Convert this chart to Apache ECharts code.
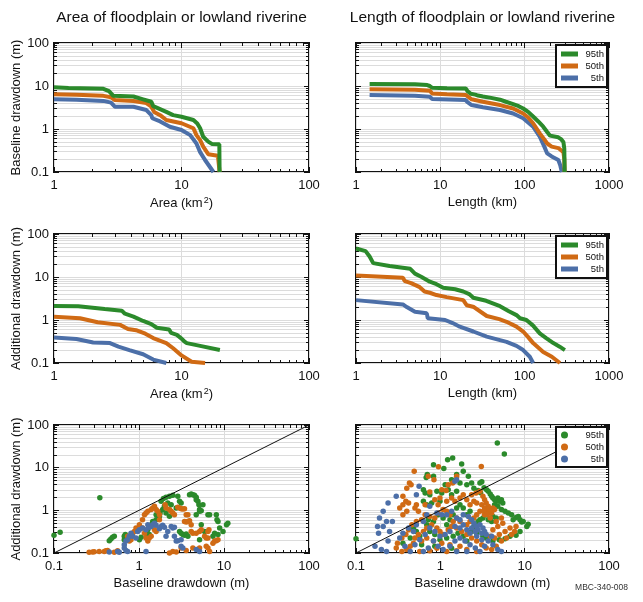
<!DOCTYPE html>
<html><head><meta charset="utf-8">
<script src="https://cdn.jsdelivr.net/npm/echarts@6/dist/echarts.min.js"></script>
<style>html,body{margin:0;padding:0;background:#fff}#c{width:643px;height:602px}</style>
</head><body><div id="c"></div>
<script>
const FONT = 'Liberation Sans, Arial, Helvetica, sans-serif';
const seriesNames = ['95th', '50th', '5th'];
const colors = ['#2b8a2b', '#d06a14', '#4c6fa8'];
const titles = ['Area of floodplain or lowland riverine', 'Length of floodplain or lowland riverine'];
const xNames = ['Area (km{s|2})', 'Length (km)', 'Area (km{s|2})', 'Length (km)', 'Baseline drawdown (m)', 'Baseline drawdown (m)'];
const yNames = ['Baseline drawdown (m)', '', 'Additional drawdown (m)', '', 'Additional drawdown (m)', ''];
const xRanges = [[1, 100], [1, 1000], [1, 100], [1, 1000], [0.1, 100], [0.1, 100]];
const yRanges = [[0.1, 100], [0.1, 100], [0.1, 100], [0.1, 100], [0.1, 100], [0.1, 100]];
const diagonal = [[0.1, 0.1], [100, 100]];

// Panel 1: Area vs baseline drawdown
const areaBase95 = [[1,9.3],[1.3,9.0],[2.44,8.6],[2.7,7.6],[2.92,5.9],[4.2,5.7],[5.0,4.9],[5.8,4.3],[6.0,3.4],[7.6,2.5],[8.6,2.1],[10,1.93],[12.4,1.62],[13.3,1.35],[14,1.04],[14.8,0.66],[16.2,0.51],[17.3,0.45],[19.8,0.44],[19.9,0.1]];
const areaBase50 = [[1,6.4],[1.5,6.3],[2.44,5.9],[2.8,5.5],[3.0,4.7],[4.2,4.5],[5.3,4.0],[5.8,3.3],[6.1,2.5],[6.8,2.1],[7.6,1.62],[10,1.36],[12.4,1.04],[13.1,0.72],[14,0.55],[14.8,0.39],[16.2,0.26],[19.3,0.24],[19.8,0.23],[19.9,0.1]];
const areaBase5 = [[1,4.9],[1.5,4.8],[2.44,4.5],[2.8,4.1],[3.0,3.3],[4.2,3.3],[5.3,2.76],[5.8,2.1],[5.9,1.78],[6.8,1.5],[8.1,1.13],[10,0.95],[11.7,0.72],[13.1,0.46],[14,0.29],[15.3,0.19],[17.8,0.1]];
// Panel 2: Length vs baseline drawdown
const lenBase95 = [[1.45,11.1],[5,11],[7,10.5],[7.5,10],[8,9.1],[12,8.9],[20,8.8],[21,7.6],[23,6.6],[26,6.3],[28,6.0],[32,5.7],[40,5.3],[51,4.8],[60,4.3],[73,3.8],[85,3.4],[96,3.0],[110,2.5],[126,1.95],[145,1.5],[166,1.13],[185,0.85],[200,0.7],[210,0.67],[250,0.64],[270,0.58],[288,0.5],[295,0.35],[298,0.1]];
const lenBase50 = [[1.45,8.4],[5,8.2],[7.5,7.8],[8,6.7],[12,6.4],[20,6.2],[21,5.6],[23.5,4.9],[32,4.3],[51,3.6],[73,3.0],[96,2.3],[110,1.85],[126,1.36],[151,0.79],[170,0.58],[185,0.46],[209,0.39],[251,0.36],[270,0.32],[288,0.29],[295,0.2],[298,0.1]];
const lenBase5 = [[1.45,6.2],[5,5.9],[7.5,5.6],[8,5.0],[20,4.7],[21,4.2],[23.5,3.6],[32,3.2],[51,2.76],[73,2.3],[96,1.78],[126,1.13],[151,0.66],[170,0.4],[185,0.27],[209,0.23],[251,0.19],[265,0.14],[276,0.1]];
// Panel 3: Area vs additional drawdown
const areaAdd95 = [[1,2.12],[1.55,2.1],[1.6,1.95],[2.5,1.8],[3.4,1.65],[3.6,1.4],[4.2,1.2],[5,0.95],[5.8,0.8],[6.4,0.66],[8,0.6],[8.3,0.5],[9.2,0.45],[10,0.37],[10.5,0.32],[11,0.29],[14,0.25],[20,0.2]];
const areaAdd50 = [[1,1.19],[1.6,1.1],[2.2,0.89],[3.3,0.77],[3.8,0.62],[4.4,0.58],[5.2,0.48],[6,0.38],[7.6,0.29],[8.6,0.22],[10,0.15],[12,0.107],[15.3,0.1]];
const areaAdd5 = [[1,0.39],[1.5,0.36],[2.03,0.3],[2.75,0.29],[3.2,0.24],[3.9,0.2],[5,0.16],[6,0.12],[7.6,0.1]];
// Panel 4: Length vs additional drawdown
const lenAdd95 = [[1,46],[1.3,40],[1.45,30],[1.6,21],[2.5,18],[4.4,15.5],[5,12],[6,10],[7.5,7.8],[9,6.8],[10.8,5.6],[15,5.2],[18.7,4.6],[22,4.0],[24.6,3.3],[35,2.8],[51,2.1],[65,1.6],[80,1.3],[88,1.1],[105,1.0],[125,0.75],[151,0.49],[180,0.38],[219,0.29],[260,0.24],[300,0.2]];
const lenAdd50 = [[1,10.8],[3.6,9.6],[3.8,8],[4.5,7.2],[5.7,5.8],[6.5,4.6],[7.5,4.3],[9,3.8],[11.9,3.4],[18.7,2.9],[20.6,2.2],[25,2.0],[35.5,1.24],[50,1.05],[61,0.91],[80,0.7],[96,0.54],[110,0.4],[126,0.29],[166,0.18],[210,0.14],[262,0.1]];
const lenAdd5 = [[1,2.9],[3.6,2.3],[4,2.0],[5,1.55],[6.9,1.43],[7.1,1.1],[11.4,1.0],[14,0.85],[17,0.7],[24.6,0.54],[35.5,0.41],[61,0.31],[80,0.25],[96,0.2],[115,0.14],[126,0.1]];
// Panel 5: area scatter, baseline vs additional
const areaPts95 = [[0.1,0.26],[0.118,0.305],[0.346,1.98],[0.447,0.195],[0.467,0.213],[0.489,0.233],[0.512,0.246],[0.671,0.246],[0.69,0.27],[0.702,0.225],[0.671,0.205],[1.01,0.205],[1.06,0.233],[1.21,0.29],[1.27,0.35],[1.32,0.27],[1.39,0.46],[1.45,0.55],[1.52,0.55],[1.59,0.6],[1.71,0.79],[1.77,0.87],[1.82,1.63],[1.94,1.9],[2.08,2.02],[2.28,2.13],[2.5,2.25],[1.99,1.24],[2.18,1.49],[2.39,1.36],[1.9,1.04],[2.08,0.87],[2.28,0.73],[1.74,0.73],[1.59,0.79],[2.86,2.13],[3.0,1.63],[3.13,1.49],[2.74,1.13],[3.0,0.32],[3.13,0.29],[3.28,0.27],[3.43,0.26],[3.59,0.28],[3.76,0.246],[3.93,2.33],[4.11,2.41],[4.3,2.33],[4.5,2.25],[4.71,2.02],[4.71,1.78],[4.93,1.63],[5.07,1.36],[5.16,1.04],[5.4,0.98],[5.65,1.36],[4.71,0.79],[5.16,0.95],[5.4,0.46],[5.91,0.32],[6.47,0.79],[6.77,0.79],[8.12,0.79],[8.27,0.6],[8.5,0.55],[8.89,0.385],[8.5,0.27],[9.73,0.32],[10.7,0.46],[11.1,0.5],[5.16,0.205],[7.41,0.246],[7.76,0.29]];
const areaPts50 = [[0.259,0.104],[0.284,0.105],[0.297,0.107],[0.34,0.109],[0.39,0.109],[0.408,0.113],[0.427,0.115],[0.512,0.104],[0.56,0.113],[0.735,0.246],[0.769,0.19],[0.805,0.205],[0.842,0.29],[0.881,0.32],[0.922,0.385],[1.01,0.46],[1.1,0.6],[1.16,0.79],[1.21,0.87],[1.27,0.95],[1.39,1.04],[1.45,1.13],[1.52,1.24],[1.59,1.04],[1.66,0.95],[1.74,0.79],[2.03,1.36],[2.08,1.13],[2.28,1.04],[2.39,0.95],[2.5,0.87],[2.61,0.79],[1.74,0.6],[1.59,0.32],[1.52,0.35],[1.39,0.246],[1.32,0.225],[1.27,0.19],[1.21,0.225],[1.16,0.29],[1.1,0.385],[2.86,1.18],[3.0,1.13],[3.13,1.09],[3.28,1.07],[3.43,1.09],[3.59,0.79],[3.76,0.79],[3.43,0.55],[3.59,0.53],[3.76,0.55],[3.93,0.57],[4.11,0.46],[4.11,0.32],[4.3,0.29],[4.71,0.29],[5.16,0.32],[5.4,0.35],[5.91,0.246],[6.18,0.225],[6.47,0.225],[6.47,0.32],[6.65,0.35],[7.76,0.19],[8.12,0.195],[8.5,0.205],[7.41,0.17],[6.18,0.143],[6.47,0.131],[6.77,0.109],[5.16,0.131],[4.3,0.131],[3.13,0.131],[2.5,0.109],[2.28,0.1],[2.74,0.105],[3.59,0.115]];
const areaPts5 = [[0.447,0.105],[0.56,0.109],[0.586,0.104],[0.671,0.131],[0.702,0.115],[0.735,0.109],[0.671,0.157],[0.702,0.19],[0.735,0.205],[0.769,0.246],[0.805,0.29],[0.842,0.246],[0.922,0.225],[0.965,0.32],[1.01,0.35],[1.1,0.385],[1.21,0.35],[1.27,0.46],[1.32,0.4],[1.39,0.42],[1.45,0.46],[1.52,0.5],[1.59,0.445],[1.74,0.37],[1.82,0.42],[1.9,0.445],[1.99,0.4],[2.08,0.246],[2.18,0.32],[2.39,0.42],[2.5,0.385],[2.61,0.4],[2.61,0.246],[2.74,0.19],[2.86,0.195],[3.13,0.205],[3.13,0.143],[3.28,0.131],[1.21,0.109],[4.71,0.12],[5.16,0.109]];
// Panel 6: length scatter, baseline vs additional
const lenPts95 = [[4.74,37.9],[5.74,20.9],[0.1,0.217],[1.40,16.9],[1.22,15.4],[0.83,11.7],[1.10,9.5],[1.79,12.2],[1.87,8.2],[1.56,6.9],[2.15,6.3],[0.70,6.9],[0.68,5.9],[0.83,6.3],[1.14,4.0],[1.36,5.2],[1.71,4.4],[2.06,4.0],[2.35,4.4],[2.95,4.4],[3.1,4.7],[0.63,3.05],[0.66,2.55],[0.75,2.33],[0.91,2.79],[1.04,2.55],[1.24,3.05],[1.36,2.33],[1.56,2.79],[3.54,3.05],[3.7,2.79],[3.9,2.41],[4.06,2.13],[4.2,1.95],[4.4,1.78],[4.6,1.63],[4.8,1.95],[5.0,1.63],[5.3,1.78],[5.5,1.49],[4.4,1.36],[4.8,1.24],[5.3,1.04],[5.85,0.95],[6.4,0.87],[7.0,0.79],[7.3,0.6],[7.9,0.68],[8.4,0.72],[8.8,0.6],[9.2,0.53],[9.6,0.55],[11.0,0.47],[10.6,0.42],[8.8,0.32],[7.9,0.26],[6.7,0.246],[5.85,0.217],[5.0,0.205],[4.2,0.19],[3.5,0.225],[3.2,0.246],[2.7,0.29],[2.35,0.32],[2.5,0.42],[2.7,0.46],[2.8,0.55],[2.95,0.6],[3.2,0.66],[3.7,0.6],[4.06,0.55],[4.2,0.72],[4.6,0.66],[3.9,0.95],[3.5,0.79],[2.25,0.95],[2.06,0.79],[1.87,1.13],[1.71,1.36],[1.56,1.13],[1.42,0.79],[1.3,0.6],[1.19,0.46],[1.08,0.66],[0.94,0.79],[0.83,0.55],[0.72,0.6],[0.69,0.46],[0.75,0.32],[0.86,0.27],[0.99,0.205],[1.19,0.225],[1.42,0.246],[1.62,0.29],[1.87,0.246],[2.06,0.19],[0.57,0.246],[0.52,0.32],[0.48,0.385],[0.44,0.225],[0.36,0.17],[0.6,0.157],[0.86,0.143],[1.36,0.13],[0.63,1.63],[0.69,1.36],[0.79,1.49],[0.99,1.63],[2.5,3.3],[2.8,2.9],[3.3,3.4],[3.0,2.6]];
const lenPts50 = [[3.06,10.7],[0.95,10.5],[0.49,8.2],[0.43,4.4],[0.45,4.0],[0.40,3.3],[0.84,5.2],[0.72,6.3],[1.24,4.0],[1.56,6.3],[1.40,4.4],[1.04,3.05],[1.17,2.9],[0.75,2.7],[0.36,2.13],[0.39,1.63],[0.42,1.49],[0.52,1.36],[0.36,1.36],[0.33,1.13],[0.40,0.95],[0.36,0.79],[0.5,1.13],[0.55,0.95],[0.66,1.36],[0.86,1.78],[0.99,1.95],[0.94,1.36],[1.19,1.63],[1.36,1.95],[1.49,1.63],[1.71,1.95],[1.87,2.33],[2.06,1.78],[2.25,1.36],[2.5,1.63],[2.7,1.49],[2.35,2.33],[2.65,2.55],[2.95,2.79],[3.2,2.13],[3.35,1.78],[3.5,1.49],[3.7,1.24],[3.35,1.13],[3.1,1.36],[3.9,1.04],[4.06,0.87],[3.7,0.87],[3.35,0.79],[2.95,0.95],[2.7,0.79],[2.5,0.66],[2.25,0.55],[2.06,0.46],[1.71,0.55],[1.56,0.66],[1.42,0.55],[1.3,0.79],[1.19,0.95],[1.08,1.04],[0.94,0.87],[0.86,0.66],[0.75,0.72],[0.66,0.79],[0.6,0.6],[0.52,0.55],[0.46,0.46],[0.42,0.35],[0.39,0.27],[0.35,0.225],[0.31,0.17],[0.30,0.131],[0.35,0.109],[0.40,0.12],[0.44,0.143],[0.48,0.17],[0.5,0.225],[0.55,0.27],[0.63,0.32],[0.69,0.385],[0.79,0.46],[0.91,0.385],[0.99,0.32],[1.08,0.27],[1.24,0.35],[1.36,0.42],[1.56,0.385],[1.79,0.32],[2.06,0.27],[2.35,0.225],[2.7,0.19],[3.1,0.157],[3.5,0.131],[4.06,0.12],[4.6,0.143],[5.3,0.19],[6.1,0.225],[7.0,0.27],[7.6,0.32],[7.9,0.42],[6.7,0.385],[5.85,0.32],[5.0,0.27],[4.4,0.225],[3.9,0.246],[4.2,0.35],[4.8,0.42],[5.5,0.5],[5.3,0.66],[4.6,0.55],[3.9,0.66],[4.4,1.04],[4.2,1.13],[0.57,0.109],[0.75,0.113],[0.91,0.13],[1.19,0.109],[1.56,0.113],[2.06,0.12],[2.7,0.109],[1.71,0.143],[1.3,0.157],[1.04,0.17],[0.83,0.19],[0.69,0.225],[0.6,0.19],[3.6,1.0],[3.8,1.1],[4.0,0.95],[3.3,0.95],[3.6,0.8]];
const lenPts5 = [[0.30,2.13],[0.24,1.49],[0.21,0.95],[0.19,0.66],[0.18,0.42],[0.185,0.29],[0.21,0.42],[0.23,0.55],[0.27,0.55],[0.25,0.32],[0.24,0.19],[0.168,0.143],[0.2,0.12],[0.23,0.109],[0.52,2.33],[0.56,3.65],[0.75,1.24],[0.69,0.79],[0.63,0.55],[1.49,4.8],[1.56,5.2],[0.91,0.87],[1.04,0.79],[1.19,0.79],[1.36,0.95],[1.56,0.66],[1.71,0.6],[1.87,0.79],[2.15,0.72],[2.35,0.6],[2.5,0.5],[2.7,0.42],[2.8,0.35],[2.95,0.46],[3.2,0.385],[3.35,0.32],[3.1,0.29],[2.6,0.32],[2.35,0.385],[2.25,0.29],[2.06,0.35],[1.87,0.46],[1.71,0.385],[1.49,0.42],[1.3,0.32],[1.14,0.27],[0.99,0.246],[0.86,0.32],[0.75,0.385],[0.66,0.27],[0.57,0.205],[0.5,0.157],[0.44,0.109],[0.38,0.143],[0.33,0.225],[0.36,0.29],[0.42,0.385],[0.48,0.32],[0.52,0.46],[0.83,0.19],[0.94,0.143],[1.08,0.12],[1.3,0.143],[1.49,0.19],[1.71,0.225],[1.96,0.19],[2.25,0.157],[2.6,0.131],[2.95,0.109],[3.35,0.143],[3.7,0.19],[4.06,0.246],[3.5,0.27],[3.1,0.205],[2.7,0.246],[4.2,0.157],[4.8,0.12],[5.3,0.109],[0.63,0.109],[0.72,0.131],[1.56,0.109],[2.06,0.109]];

const lineSets = [[areaBase95, areaBase50, areaBase5], [lenBase95, lenBase50, lenBase5], [areaAdd95, areaAdd50, areaAdd5], [lenAdd95, lenAdd50, lenAdd5]];
const pointSets = [[areaPts95, areaPts50, areaPts5], [lenPts95, lenPts50, lenPts5]];

const gridBoxes = [
  {left: 54, top: 43, width: 255, height: 129},
  {left: 356, top: 43, width: 253, height: 129},
  {left: 54, top: 234, width: 255, height: 129},
  {left: 356, top: 234, width: 253, height: 129},
  {left: 54, top: 425, width: 255, height: 128},
  {left: 356, top: 425, width: 253, height: 128}
];

const chart = echarts.init(document.getElementById('c'), null, {renderer: 'canvas'});
const grid = gridBoxes.map(b => Object.assign({show: true, borderColor: '#111', borderWidth: 2, backgroundColor: '#fff', containLabel: false}, b));
const xAxis = [], yAxis = [];
const labelStyle = {fontSize: 13, color: '#111', fontFamily: FONT};
gridBoxes.forEach((b, g) => {
  const [xmin, xmax] = xRanges[g];
  const [ymin, ymax] = yRanges[g];
  const tickBase = {inside: true, length: 5, lineStyle: {color: '#111', width: 1}};
  const minorBase = {show: true, splitNumber: 9, length: 3, lineStyle: {color: '#111', width: 1}};
  xAxis.push({type: 'log', logBase: 10, gridIndex: g, min: xmin, max: xmax, position: 'bottom',
    axisLine: {show: false}, axisTick: tickBase, minorTick: minorBase,
    axisLabel: Object.assign({margin: 7, formatter: v => String(v)}, labelStyle),
    splitLine: {show: true, lineStyle: {color: '#dcdcdc', width: 1}}, minorSplitLine: {show: false},
    name: xNames[g], nameLocation: 'middle', nameGap: 24,
    nameTextStyle: {fontSize: 13, color: '#111', fontFamily: FONT,
      rich: {s: {fontSize: 9, color: '#111', fontFamily: FONT, verticalAlign: 'top', padding: [0, 0, 6, 1]}}}});
  xAxis.push({type: 'log', logBase: 10, gridIndex: g, min: xmin, max: xmax, position: 'top',
    axisLine: {show: false}, axisTick: tickBase, minorTick: minorBase, axisLabel: {show: false},
    splitLine: {show: false}, minorSplitLine: {show: false}});
  yAxis.push({type: 'log', logBase: 10, gridIndex: g, min: ymin, max: ymax, position: 'left',
    axisLine: {show: false}, axisTick: tickBase, minorTick: minorBase,
    axisLabel: Object.assign({show: g % 2 === 0, margin: 5, formatter: v => String(v)}, labelStyle),
    splitLine: {show: true, lineStyle: {color: '#dcdcdc', width: 1}},
    minorSplitLine: {show: true, lineStyle: {color: '#dcdcdc', width: 1}},
    name: yNames[g], nameLocation: 'middle', nameGap: 30, nameTextStyle: {fontSize: 13, color: '#111', fontFamily: FONT}});
  yAxis.push({type: 'log', logBase: 10, gridIndex: g, min: ymin, max: ymax, position: 'right',
    axisLine: {show: false}, axisTick: tickBase, minorTick: minorBase, axisLabel: {show: false},
    splitLine: {show: false}, minorSplitLine: {show: false}});
});

const series = [];
lineSets.forEach((set, g) => {
  set.forEach((data, k) => {
    series.push({type: 'line', name: seriesNames[k], xAxisIndex: 2 * g, yAxisIndex: 2 * g,
      data: data, symbol: 'none', color: colors[k], lineStyle: {width: 4, color: colors[k]},
      z: 5 - k, silent: true, animation: false});
  });
});
pointSets.forEach((set, j) => {
  const g = 4 + j;
  set.forEach((data, k) => {
    series.push({type: 'scatter', name: seriesNames[k], xAxisIndex: 2 * g, yAxisIndex: 2 * g,
      data: data, symbol: 'circle', symbolSize: 5.5, color: colors[k],
      itemStyle: {color: colors[k], opacity: 1}, z: 3 + k, silent: true, animation: false});
  });
  series.push({type: 'line', name: 'diag', xAxisIndex: 2 * g, yAxisIndex: 2 * g, data: diagonal,
    symbol: 'none', lineStyle: {width: 1, color: '#111'}, z: 8, silent: true, animation: false});
});

function legendFor(top, isLine) {
  return {show: true, orient: 'vertical', left: 556, top: top,
    data: seriesNames.map(n => ({name: n, icon: isLine ? 'rect' : 'circle'})),
    itemWidth: isLine ? 17 : 7, itemHeight: isLine ? 5 : 7, itemGap: 2,
    padding: isLine ? [4, 3, 4, 5] : [3, 3, 3, 5],
    borderColor: '#111', borderWidth: 2, borderRadius: 0, backgroundColor: '#fff',
    selectedMode: false, z: 20,
    formatter: n => '{a|' + n + '}',
    textStyle: {rich: {a: {width: isLine ? 21 : 31, align: 'right', fontSize: 9.5, lineHeight: 10.5, color: '#111', fontFamily: FONT}}}};
}

const option = {
  animation: false,
  backgroundColor: '#fff',
  textStyle: {fontFamily: FONT},
  grid, xAxis, yAxis, series,
  legend: [legendFor(45, true), legendFor(236, true), legendFor(427, false)],
  graphic: [
    {type: 'text', x: 181.5, y: 18, style: {text: titles[0], fontSize: 15.5, fontFamily: FONT, fill: '#111', align: 'center', verticalAlign: 'middle'}},
    {type: 'text', x: 482.5, y: 18, style: {text: titles[1], fontSize: 15.5, fontFamily: FONT, fill: '#111', align: 'center', verticalAlign: 'middle'}},
    {type: 'text', x: 628, y: 588, style: {text: 'MBC-340-008', fontSize: 8.5, fontFamily: FONT, fill: '#333', align: 'right', verticalAlign: 'middle'}}
  ]
};
chart.setOption(option);
</script></body></html>
